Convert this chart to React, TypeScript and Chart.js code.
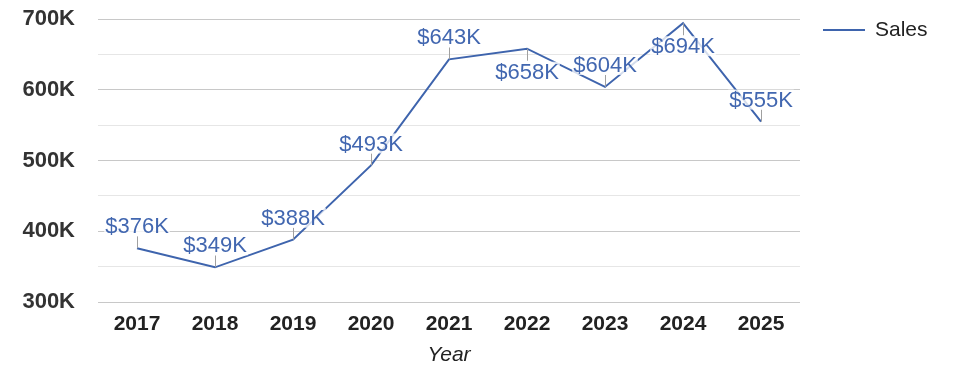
import React, { useEffect, useRef } from "react";
import { Chart, registerables } from "chart.js";

Chart.register(...registerables);

const categories = ["2017", "2018", "2019", "2020", "2021", "2022", "2023", "2024", "2025"];
const salesValues = [376000, 349000, 388000, 493000, 643000, 658000, 604000, 694000, 555000];
const seriesName = "Sales";
const xAxisTitle = "Year";
const yMin = 300000;
const yMax = 700000;
const yStep = 50000;

const FONT = "'Liberation Sans', Arial, Helvetica, sans-serif";
const LINE_COLOR = "#3e64ad";
const LABEL_COLOR = "#4267b0";
const CANVAS_W = 959;
const CANVAS_H = 362;

const fmtK = (v: number) => `${Math.round(v / 1000)}K`;

const dataLabelPlugin = {
  id: "dataLabels",
  afterDatasetsDraw(chart: any) {
    const ctx = chart.ctx;
    const meta = chart.getDatasetMeta(0);
    const data = chart.data.datasets[0].data as number[];
    ctx.save();
    ctx.font = `22px ${FONT}`;
    ctx.textAlign = "center";
    ctx.textBaseline = "middle";
    meta.data.forEach((pt: any, i: number) => {
      const v = data[i];
      const prev = i > 0 ? data[i - 1] : undefined;
      const next = i < data.length - 1 ? data[i + 1] : undefined;
      const below = prev !== undefined && next !== undefined && v > prev && v > next;
      const text = "$" + fmtK(v);
      const w = ctx.measureText(text).width;
      const cy = below ? pt.y + 23 : pt.y - 22;
      ctx.strokeStyle = "#a0a0a0";
      ctx.lineWidth = 1;
      ctx.beginPath();
      ctx.moveTo(Math.round(pt.x) + 0.5, pt.y);
      ctx.lineTo(Math.round(pt.x) + 0.5, below ? pt.y + 12 : pt.y - 12);
      ctx.stroke();
      ctx.fillStyle = "rgba(255,255,255,0.78)";
      ctx.fillRect(pt.x - w / 2 - 1, cy - 10, w + 2, 20);
      ctx.fillStyle = LABEL_COLOR;
      ctx.fillText(text, pt.x, cy + 1);
    });
    ctx.restore();
  },
};

const legendPlugin = {
  id: "customLegend",
  afterDraw(chart: any) {
    const ctx = chart.ctx;
    const area = chart.chartArea;
    const x0 = area.right + 23;
    const y0 = 22;
    ctx.save();
    ctx.strokeStyle = LINE_COLOR;
    ctx.lineWidth = 2;
    ctx.beginPath();
    ctx.moveTo(x0, y0);
    ctx.lineTo(x0 + 42, y0);
    ctx.stroke();
    ctx.fillStyle = "#222222";
    ctx.font = `21px ${FONT}`;
    ctx.textAlign = "left";
    ctx.textBaseline = "middle";
    ctx.fillText(chart.data.datasets[0].label, x0 + 52, y0);
    ctx.restore();
  },
};

export default function App() {
  const ref = useRef<HTMLCanvasElement | null>(null);
  useEffect(() => {
    if (!ref.current) return;
    const chart = new Chart(ref.current, {
      type: "line",
      data: {
        labels: categories,
        datasets: [
          {
            label: seriesName,
            data: salesValues,
            borderColor: LINE_COLOR,
            backgroundColor: LINE_COLOR,
            borderWidth: 2,
            pointRadius: 0,
            pointHoverRadius: 0,
            tension: 0,
            fill: false,
          },
        ],
      },
      options: {
        animation: false,
        responsive: false,
        maintainAspectRatio: false,
        layout: { padding: { top: 11, right: CANVAS_W - 792, left: 0, bottom: 0 } },
        plugins: {
          legend: { display: false },
          tooltip: { enabled: false },
        },
        scales: {
          x: {
            type: "category",
            offset: true,
            grid: { display: false, drawTicks: false },
            border: { display: false },
            ticks: {
              color: "#222222",
              font: { family: FONT, size: 21, weight: "bold" },
              padding: 10,
              maxRotation: 0,
              autoSkip: false,
            },
            title: {
              display: true,
              text: xAxisTitle,
              color: "#222222",
              font: { family: FONT, size: 21, style: "italic" },
              padding: { top: 0, bottom: 2 },
            },
            afterFit: (s: any) => {
              s.height = CANVAS_H - 294;
              s.paddingLeft = 0;
              s.paddingRight = 0;
            },
          },
          y: {
            min: yMin,
            max: yMax,
            border: { display: false },
            grid: {
              drawTicks: false,
              color: (c: any) => (c.tick && c.tick.value % 100000 === 0 ? "#c8c8c8" : "#e6e6e6"),
              lineWidth: 1,
            },
            ticks: {
              stepSize: yStep,
              color: "#333333",
              font: { family: FONT, size: 22, weight: "bold", lineHeight: 1 },
              padding: 23,
              callback: (v: any) => (Number(v) % 100000 === 0 ? fmtK(Number(v)) : ""),
            },
            afterFit: (s: any) => {
              s.width = 90;
              s.paddingTop = 0;
              s.paddingBottom = 0;
            },
          },
        },
      },
      plugins: [dataLabelPlugin, legendPlugin],
    });
    return () => chart.destroy();
  }, []);
  return (
    <div style={{ width: CANVAS_W, height: CANVAS_H }}>
      <canvas ref={ref} width={CANVAS_W} height={CANVAS_H} style={{ display: "block" }} />
    </div>
  );
}
